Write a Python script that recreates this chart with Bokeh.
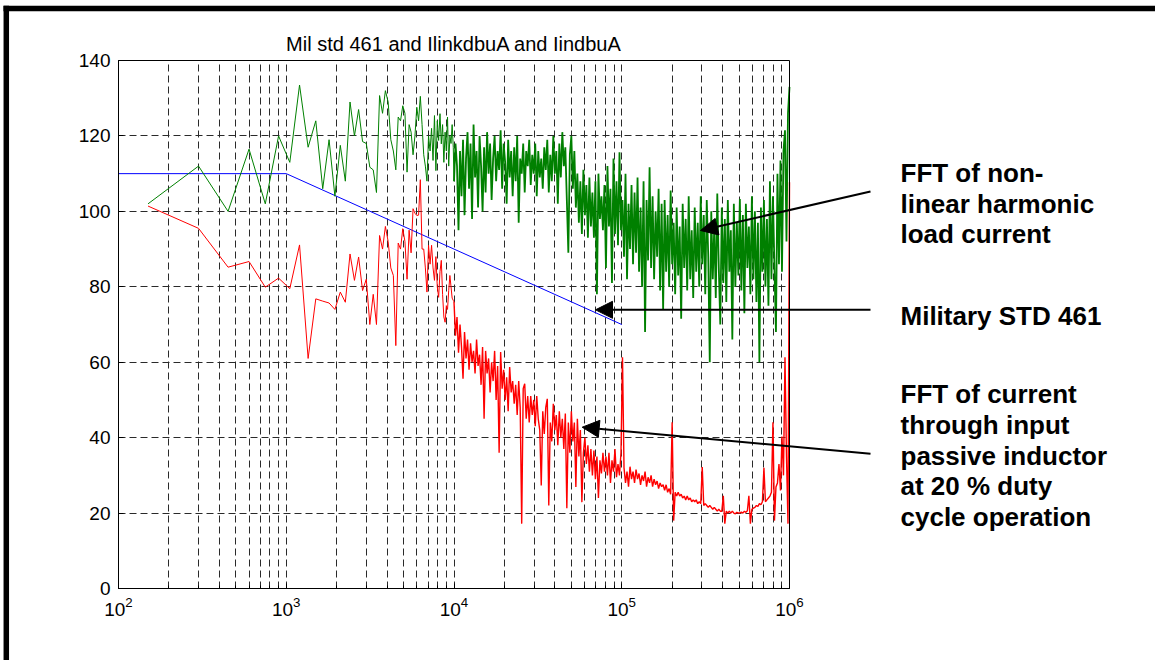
import numpy as np
from bokeh.plotting import figure
from bokeh.models import (Range1d, FixedTicker, Label, Arrow, NormalHead, BoxAnnotation,
                          ColumnDataSource, LogAxis, LinearAxis, LogTickFormatter, Grid)
from bokeh.embed import file_html
from bokeh.resources import INLINE

# ---------------- data ----------------
bin_hz = 150  # FFT bin spacing
low_harmonics = list(range(1, 67))  # bins below 10 kHz

green_low = [102, 112, 100, 116.5, 102, 120, 113, 133.5, 117, 124,
             106, 119, 104, 117.5, 108, 129, 120, 127, 118.5, 118,
             111.7, 111, 105, 130.7, 126, 132, 129, 119, 116, 111,
             125, 124, 128, 126, 110.4, 123, 121, 115, 120, 127.6,
             124, 130.5, 123, 115, 112, 108, 120, 116, 122, 113.5,
             125.4, 110.8, 124, 118.8, 125.9, 117.9, 123, 113, 121, 116,
             125, 112, 120, 118, 123, 117]

red_low = [101.4, 95.5, 85.2, 86.7, 79.9, 82.3, 79.5, 91.1, 61, 76.8,
           76.2, 75.7, 74, 78.6, 75.9, 88.7, 81.7, 87.9, 79, 82,
           70, 78, 70, 93.6, 90, 96, 92, 85, 83, 64.4,
           91.6, 90, 95.4, 92, 82, 95, 89, 100.7, 99.5, 98.9,
           99, 108.4, 90, 90, 85, 78.6, 91, 86, 91, 85,
           81.7, 88, 80, 77.2, 84, 87, 78, 72, 70.6, 75,
           74, 79, 83, 80, 77, 76.4]

# dense part 10 kHz .. 1 MHz
green_hf = [108, 118, 112, 95, 116, 104, 119, 99, 114, 121,
            106, 118, 98, 123, 109, 116, 101, 120, 112, 100,
            117, 105, 121, 110, 118, 103, 114, 120, 108, 116,
            111, 121.5, 106, 118, 113, 102, 119, 109, 116, 104,
            117, 108, 120, 97, 114, 110, 118, 105, 116, 112,
            119, 107, 115, 110, 118, 104, 116, 109, 114, 106,
            117, 111, 119, 105, 115, 108, 120, 110, 116, 102,
            118, 109, 121, 112, 117, 103, 89, 115, 120, 106,
            116, 101, 110, 97, 108, 94, 111, 99, 107, 93,
            109, 96, 105, 93, 108, 78, 110, 98, 104, 95,
            107, 85, 112, 96, 106, 81, 114, 94, 108, 91,
            115.7, 95, 103, 88, 110, 82, 102, 90, 107, 86,
            105, 89, 109, 84, 101, 80, 108, 68, 103, 87,
            111.7, 85, 104, 82, 100, 88, 106, 79, 102, 74,
            103, 84, 99, 80, 105.5, 86, 97, 78, 101, 83,
            96, 71.5, 102, 85, 98, 79, 104, 82, 95, 77,
            101, 84, 97, 80, 104, 86, 99, 78, 103, 88,
            60, 100, 82, 96, 77, 104.7, 85, 70, 101, 81,
            98, 76, 103, 84, 95, 66, 102, 80, 97, 83,
            103.3, 79, 99, 73, 102, 85, 96, 78, 104, 82,
            100, 76, 97, 60, 101, 84, 103, 80, 98, 75,
            108, 82, 104, 85, 68, 110, 86, 113.5, 84, 116,
            121.5, 92, 126, 133]

red_hf = [76, 67, 72, 62.5, 70, 64, 55.6, 68, 61, 66,
          58, 65, 60, 63, 57, 66, 59, 62, 54, 64,
          45, 63, 57, 61, 52, 60, 55, 63, 50, 59,
          36, 62.7, 53, 58, 50, 56, 47, 58.7, 52, 55,
          49, 54, 46, 55, 48, 17.2, 53, 54.3, 45, 51,
          44, 51, 46, 50, 43, 51, 45, 42, 27.3, 47,
          41, 48, 50.3, 22, 44, 39, 49, 42, 46, 38,
          47, 40, 45, 37, 46.4, 21.3, 44, 36, 47, 39,
          44, 26.9, 45, 35, 42, 22.9, 36, 40, 33, 38,
          31, 37, 30, 36.6, 29, 35, 24, 34, 30.5, 36,
          31, 35, 30, 36, 28, 34, 31, 37, 29.5, 33,
          30, 36, 61.3, 32, 28, 31, 27, 32.3, 29, 31,
          28, 31.5, 29, 30.5, 27.5, 30, 28.5, 31, 27, 29.5,
          28, 30, 27, 29, 27.5, 28.5, 26.5, 28, 27, 27.5,
          26, 27.5, 25.5, 26.5, 25, 44.1, 18, 25.5, 24.5, 25.5,
          24.5, 25, 24, 24.5, 23.5, 24.5, 23.5, 24, 23, 23.5,
          23, 23.5, 22.5, 23, 22.5, 32.2, 22, 22.5, 22, 21.5,
          22, 21.5, 21, 21.5, 21, 20.5, 21, 20.5, 20.5, 24.6,
          17.2, 20.5, 20, 20.5, 20, 20.5, 20, 19.8, 20.2, 20,
          20, 20.3, 20, 20.5, 20.2, 20.6, 24.6, 17.2, 21, 21.3,
          21.5, 22, 21.8, 22.5, 22.2, 23, 32, 23, 23.5, 24,
          24.5, 25.5, 44.1, 18, 26.9, 28, 33, 26, 40.3, 30,
          61.3, 35, 17.2, 107.7]

mil_std_f = [100, 1000, 100000]
mil_std_db = [110, 110, 70]

x_ticks = [1e2, 1e3, 1e4, 1e5, 1e6]
y_ticks = [0, 20, 40, 60, 80, 100, 120, 140]
x_lim = (1e2, 1e6)
y_lim = (0, 140)

title_text = "Mil std 461 and IlinkdbuA and IindbuA"
note_green = ["FFT of non-", "linear harmonic", "load current"]
note_mil = ["Military STD 461"]
note_red = ["FFT of current", "through input", "passive inductor",
            "at 20 % duty", "cycle operation"]

# ---------------- page geometry ----------------
W, H = 1155, 660
AX_L, AX_R, AX_T, AX_B = 118, 789, 60, 588   # data box in page pixels
px_per_dec = (AX_R - AX_L) / np.log10(x_lim[1] / x_lim[0])
px_per_db = (AX_B - AX_T) / (y_lim[1] - y_lim[0])


def fx(px):  # page x pixel -> frequency
    return x_lim[0] * 10 ** ((px - AX_L) / px_per_dec)


def fy(py):  # page y pixel -> dB
    return y_lim[0] + (AX_B - py) / px_per_db


# ---------------- build series ----------------
f_low = [bin_hz * k for k in low_harmonics]
f_hf_g = list(np.geomspace(1e4, 1e6, len(green_hf)))
f_hf_r = list(np.geomspace(1e4, 1e6, len(red_hf)))
green_lo_src = ColumnDataSource(dict(f=f_low + f_hf_g[:1], db=green_low + green_hf[:1]))
green_hi_src = ColumnDataSource(dict(f=f_hf_g, db=green_hf))
red_lo_src = ColumnDataSource(dict(f=f_low + f_hf_r[:1], db=red_low + red_hf[:1]))
red_hi_src = ColumnDataSource(dict(f=f_hf_r, db=red_hf))
mil_src = ColumnDataSource(dict(f=mil_std_f, db=mil_std_db))

FONT = "Liberation Sans"

# the frame covers the whole page so that the side notes and arrows are not clipped
p = figure(width=W, height=H, x_axis_type="log",
           x_range=Range1d(fx(0), fx(W)), y_range=Range1d(fy(H), fy(0)),
           x_axis_location=None, y_axis_location=None,
           output_backend="svg", toolbar_location=None,
           min_border=0)
p.background_fill_color = "white"
p.border_fill_color = "white"
p.outline_line_color = None
p.grid.visible = False

minor = [m * d for d in [1e2, 1e3, 1e4, 1e5] for m in range(2, 10)]
xticker = FixedTicker(ticks=x_ticks, minor_ticks=minor)
yticker = FixedTicker(ticks=y_ticks)

grid_col = "#2a2a2a"
has_cross = "cross_bounds" in Grid.properties()
if has_cross:
    xg = Grid(dimension=0, ticker=xticker, bounds=x_lim, cross_bounds=y_lim,
              grid_line_color=grid_col, grid_line_dash="7 4",
              minor_grid_line_color=grid_col, minor_grid_line_dash="7 4")
    yg = Grid(dimension=1, ticker=yticker, bounds=y_lim, cross_bounds=x_lim,
              grid_line_color=grid_col, grid_line_dash="7 4")
    p.add_layout(xg)
    p.add_layout(yg)
else:
    vx = [t for t in sorted(x_ticks + minor) if x_lim[0] < t < x_lim[1]]
    p.multi_line(xs=[[t, t] for t in vx], ys=[list(y_lim)] * len(vx),
                 line_color=grid_col, line_dash="7 4", line_width=1)
    hy = [t for t in y_ticks if y_lim[0] < t < y_lim[1]]
    p.multi_line(xs=[list(x_lim)] * len(hy), ys=[[t, t] for t in hy],
                 line_color=grid_col, line_dash="7 4", line_width=1)

xaxis = LogAxis(ticker=xticker, formatter=LogTickFormatter(), fixed_location=y_lim[0],
                bounds=x_lim)
yaxis = LinearAxis(ticker=yticker, fixed_location=x_lim[0], bounds=y_lim)
for ax in (xaxis, yaxis):
    ax.axis_line_color = "black"
    ax.major_tick_in = 5
    ax.major_tick_out = 0
    ax.minor_tick_in = 3
    ax.minor_tick_out = 0
    ax.major_tick_line_color = "black"
    ax.minor_tick_line_color = "black"
    ax.major_label_text_font = FONT
    ax.major_label_text_font_size = "19px"
    ax.major_label_text_color = "black"
yaxis.minor_tick_line_color = None
yaxis.major_label_standoff = 8
xaxis.major_label_standoff = 8
p.add_layout(xaxis, "below")
p.add_layout(yaxis, "left")

p.line("f", "db", source=mil_src, line_color="#0000ff", line_width=1)
p.line("f", "db", source=green_lo_src, line_color="#008000", line_width=1)
p.line("f", "db", source=green_hi_src, line_color="#008000", line_width=1.8)
p.line("f", "db", source=red_lo_src, line_color="#ff0000", line_width=1)
p.line("f", "db", source=red_hi_src, line_color="#ff0000", line_width=1.4)

# axes box
p.add_layout(BoxAnnotation(left=x_lim[0], right=x_lim[1], bottom=y_lim[0], top=y_lim[1],
                           fill_alpha=0, line_color="black", line_alpha=1, line_width=1))

# outer frame of the picture (top and left edges)
p.segment(x0=[fx(3), fx(5.8)], y0=[fy(7.9), fy(5.2)],
          x1=[fx(W + 20), fx(5.8)], y1=[fy(7.9), fy(H + 20)],
          line_color="black", line_width=5.5)

# title
p.add_layout(Label(x=fx((AX_L + AX_R) / 2), y=fy(43), text=title_text, text_font=FONT,
                   text_font_size="20px", text_align="center",
                   text_baseline="alphabetic", text_color="black"))

# side notes
TX = 900
blocks = [(note_green, [172, 203, 233.5]), (note_mil, [315.7]),
          (note_red, [393.3, 424, 455, 485, 516])]
for lines, bases in blocks:
    for txt, b in zip(lines, bases):
        p.add_layout(Label(x=fx(TX), y=fy(b), text=txt, text_font=FONT,
                           text_font_size="26px", text_font_style="bold",
                           text_baseline="alphabetic", text_color="black"))

arrows = [((870, 191), (700, 230)), ((870, 309.3), (595, 309.3)),
          ((870, 453.3), (581.7, 426.7))]
for (x0, y0), (x1, y1) in arrows:
    p.add_layout(Arrow(end=NormalHead(size=17, fill_color="black", line_color="black"),
                       x_start=fx(x0), y_start=fy(y0), x_end=fx(x1), y_end=fy(y1),
                       line_color="black", line_width=2))

open("out.html", "w").write(file_html(p, INLINE))
